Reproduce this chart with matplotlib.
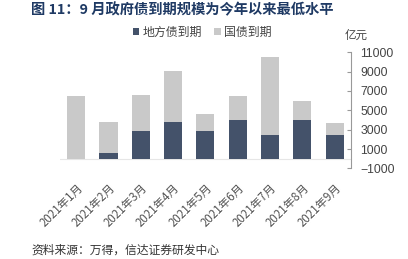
import matplotlib
matplotlib.use('Agg')
import matplotlib.pyplot as plt
import numpy as np

plt.rcParams['font.family'] = ['Noto Sans CJK SC', 'DejaVu Sans']

# data (亿元)
months = ['2021年1月', '2021年2月', '2021年3月', '2021年4月', '2021年5月',
          '2021年6月', '2021年7月', '2021年8月', '2021年9月']
local_debt = [0, 590, 2900, 3750, 2900, 4030, 2480, 3960, 2480]
treasury = [6440, 3240, 3720, 5320, 1720, 2410, 8070, 1970, 1210]

navy = '#44526A'
grey = '#C9C9C9'

fig = plt.figure(figsize=(4.08, 2.59), dpi=100)
ax = fig.add_axes([0.147, 0.350, 0.713, 0.448])

x = np.arange(len(months))
ax.bar(x, local_debt, width=0.56, color=navy, label='地方债到期')
ax.bar(x, treasury, width=0.56, bottom=local_debt, color=grey, label='国债到期')

ax.set_ylim(-1000, 11000)
ax.set_xlim(-0.5, len(months) - 0.5)
ax.set_yticks(np.arange(-1000, 11001, 2000))
ax.yaxis.tick_right()
ax.tick_params(axis='y', direction='in', length=3, color='#999999',
               labelsize=8.8, labelcolor='#444444', pad=7)
for lab in ax.get_yticklabels():
    lab.set_family(['Liberation Sans', 'DejaVu Sans'])
ax.set_xticks(x)
ax.set_xticklabels(months, rotation=45, ha='right', va='top',
                   rotation_mode='anchor', fontsize=8.3, color='#555555')
ax.tick_params(axis='x', length=0, pad=9)
ax.axhline(0, color='#E6E6E6', lw=0.8, zorder=0)

for s in ['top', 'left', 'bottom']:
    ax.spines[s].set_visible(False)
ax.spines['right'].set_color('#999999')
ax.spines['right'].set_linewidth(0.8)

fig.legend(loc='center', bbox_to_anchor=(0.496, 0.876), ncol=2, frameon=False,
           fontsize=8.6, handlelength=0.55, handleheight=0.55, handletextpad=0.3,
           columnspacing=1.0, labelcolor='#444444')

fig.text(0.874, 0.865, '亿元', fontsize=8.3, color='#444444', ha='center', va='center')
fig.text(0.075, 0.962, '图 11：9 月政府债到期规模为今年以来最低水平',
         fontsize=10.3, fontweight='bold', color='#1F3A64', va='center')
fig.text(0.078, 0.035, '资料来源：万得，信达证券研发中心', fontsize=8.5,
         color='#333333', style='italic', va='center')

fig.savefig('out.png', dpi=100)
